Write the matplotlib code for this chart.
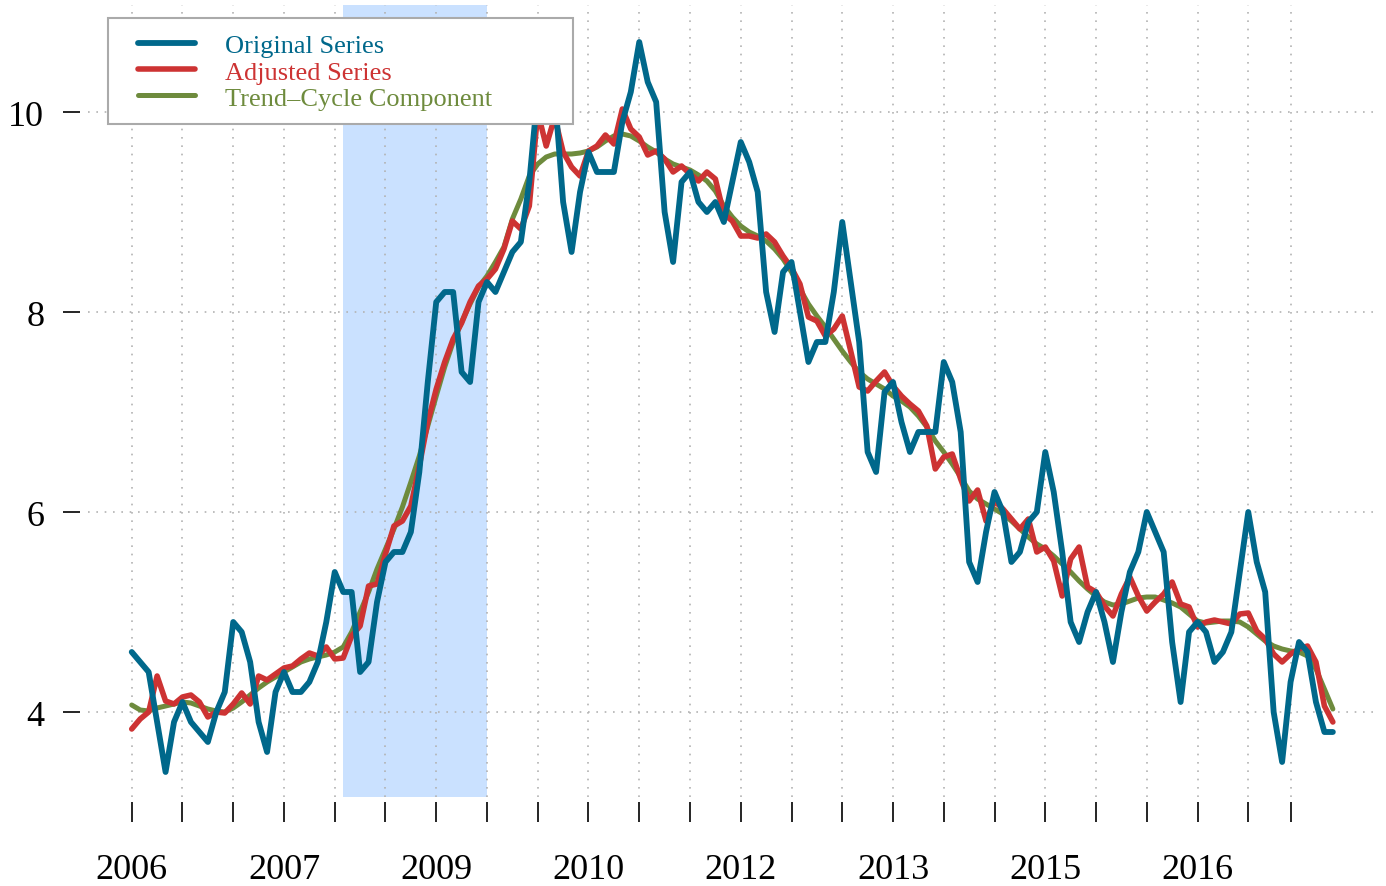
import numpy as np
import matplotlib
matplotlib.use("Agg")
import matplotlib.pyplot as plt
from matplotlib.patches import Rectangle

plt.rcParams['font.family'] = ['Liberation Serif', 'DejaVu Serif']
plt.rcParams['lines.scale_dashes'] = False

# monthly series, first point = January 2006
start_year = 2006

original = [4.6, 4.5, 4.4, 3.9, 3.4, 3.9, 4.1, 3.9, 3.8, 3.7, 4.0, 4.2,
            4.9, 4.8, 4.5, 3.9, 3.6, 4.2, 4.4, 4.2, 4.2, 4.3, 4.5, 4.9,
            5.4, 5.2, 5.2, 4.4, 4.5, 5.1, 5.5, 5.6, 5.6, 5.8, 6.4, 7.3,
            8.1, 8.2, 8.2, 7.4, 7.3, 8.1, 8.3, 8.2, 8.4, 8.6, 8.7, 9.3,
            10.2, 10.0, 10.2, 9.1, 8.6, 9.2, 9.6, 9.4, 9.4, 9.4, 9.9, 10.2,
            10.7, 10.3, 10.1, 9.0, 8.5, 9.3, 9.4, 9.1, 9.0, 9.1, 8.9, 9.3,
            9.7, 9.5, 9.2, 8.2, 7.8, 8.4, 8.5, 8.0, 7.5, 7.7, 7.7, 8.2,
            8.9, 8.3, 7.7, 6.6, 6.4, 7.2, 7.3, 6.9, 6.6, 6.8, 6.8, 6.8,
            7.5, 7.3, 6.8, 5.5, 5.3, 5.8, 6.2, 6.0, 5.5, 5.6, 5.9, 6.0,
            6.6, 6.2, 5.6, 4.9, 4.7, 5.0, 5.2, 4.9, 4.5, 5.0, 5.4, 5.6,
            6.0, 5.8, 5.6, 4.7, 4.1, 4.8, 4.9, 4.8, 4.5, 4.6, 4.8, 5.4,
            6.0, 5.5, 5.2, 4.0, 3.5, 4.3, 4.7, 4.6, 4.1, 3.8, 3.8]

adjusted = [3.83, 3.93, 4.00, 4.36, 4.11, 4.08, 4.15, 4.17, 4.10, 3.95, 4.00, 3.99,
            4.08, 4.19, 4.08, 4.36, 4.32, 4.38, 4.44, 4.46, 4.53, 4.59, 4.56, 4.65,
            4.53, 4.54, 4.76, 4.86, 5.26, 5.28, 5.58, 5.86, 5.91, 6.06, 6.46, 6.90,
            7.23, 7.50, 7.73, 7.89, 8.10, 8.26, 8.33, 8.43, 8.63, 8.91, 8.83, 9.06,
            10.00, 9.66, 9.95, 9.60, 9.45, 9.36, 9.61, 9.66, 9.77, 9.68, 10.03, 9.83,
            9.75, 9.57, 9.61, 9.53, 9.40, 9.46, 9.38, 9.31, 9.40, 9.33, 8.98, 8.91,
            8.76, 8.76, 8.74, 8.78, 8.70, 8.56, 8.44, 8.28, 7.95, 7.91, 7.76, 7.83,
            7.96, 7.61, 7.25, 7.21, 7.31, 7.40, 7.26, 7.16, 7.08, 7.01, 6.86, 6.43,
            6.55, 6.58, 6.33, 6.11, 6.22, 5.91, 6.11, 6.03, 5.93, 5.83, 5.93, 5.60,
            5.65, 5.51, 5.16, 5.53, 5.65, 5.25, 5.20, 5.06, 4.96, 5.18, 5.35, 5.16,
            5.01, 5.10, 5.18, 5.30, 5.08, 5.05, 4.85, 4.90, 4.92, 4.90, 4.88, 4.98,
            4.99, 4.81, 4.73, 4.58, 4.50, 4.58, 4.63, 4.66, 4.50, 4.06, 3.90]

trend = [4.07, 4.02, 4.01, 4.04, 4.06, 4.08, 4.10, 4.09, 4.06, 4.03, 4.01, 4.00,
         4.04, 4.10, 4.17, 4.24, 4.30, 4.35, 4.40, 4.45, 4.50, 4.53, 4.55, 4.57,
         4.60, 4.65, 4.80, 5.00, 5.20, 5.43, 5.63, 5.83, 6.05, 6.30, 6.56, 6.86,
         7.16, 7.45, 7.70, 7.90, 8.08, 8.25, 8.36, 8.50, 8.65, 8.93, 9.13, 9.36,
         9.48, 9.55, 9.58, 9.58, 9.58, 9.59, 9.61, 9.65, 9.71, 9.76, 9.78, 9.76,
         9.71, 9.65, 9.60, 9.53, 9.48, 9.45, 9.42, 9.37, 9.31, 9.21, 9.06, 8.95,
         8.86, 8.80, 8.76, 8.71, 8.63, 8.53, 8.40, 8.23, 8.08, 7.96, 7.85, 7.73,
         7.61, 7.50, 7.40, 7.33, 7.28, 7.23, 7.16, 7.11, 7.05, 6.96, 6.85, 6.71,
         6.60, 6.48, 6.35, 6.21, 6.13, 6.08, 6.03, 5.98, 5.91, 5.83, 5.75, 5.68,
         5.63, 5.56, 5.48, 5.40, 5.31, 5.23, 5.16, 5.10, 5.07, 5.08, 5.11, 5.14,
         5.15, 5.15, 5.12, 5.09, 5.05, 4.98, 4.91, 4.89, 4.90, 4.91, 4.91, 4.90,
         4.85, 4.78, 4.71, 4.66, 4.63, 4.61, 4.60, 4.56, 4.43, 4.23, 4.03]

# shaded period (month index from start)
band_start, band_end = 25, 42

tick_months = [0, 6, 12, 18, 24, 30, 36, 42, 48, 54, 60, 66, 72, 78, 84, 90,
               96, 102, 108, 114, 120, 126, 132, 137]
tick_labels = ['2006', '', '', '2007', '', '', '2009', '', '', '2010', '', '',
               '2012', '', '', '2013', '', '', '2015', '', '', '2016', '', '']

x = start_year + np.arange(len(original)) / 12.0

col_orig = '#00688B'
col_adj = '#CD3333'
col_trend = '#6E8B3D'

fig = plt.figure(figsize=(13.86, 8.87), dpi=100)
ax = fig.add_axes([88 / 1386, 1 - 798 / 887, (1376 - 88) / 1386, (798 - 6) / 887])

ax.axvspan(start_year + band_start / 12, start_year + band_end / 12,
           color='#CAE1FF', lw=0, zorder=0)

ax.plot(x, trend, color=col_trend, lw=3.6, zorder=3,
        solid_joinstyle='round', solid_capstyle='round', label='Trend\u2013Cycle Component')
ax.plot(x, adjusted, color=col_adj, lw=4.0, zorder=4,
        solid_joinstyle='round', solid_capstyle='round', label='Adjusted Series')
ax.plot(x, original, color=col_orig, lw=4.2, zorder=5,
        solid_joinstyle='round', solid_capstyle='round', label='Original Series')

ax.set_xlim(start_year - 5.17 / 12, start_year + 147.1 / 12)
ax.set_ylim(3.15, 11.07)

ax.set_xticks([start_year + m / 12 for m in tick_months])
ax.set_xticklabels(tick_labels)
ax.set_yticks([4, 6, 8, 10])
ax.set_yticklabels(['4', '6', '8', '10'])

ax.grid(True, color='#b3b3b3', lw=1.2, linestyle=(0, (1.2, 4.8)), zorder=1)
ax.set_axisbelow(False)
for gl in ax.get_xgridlines() + ax.get_ygridlines():
    gl.set_zorder(1)

for s in ax.spines.values():
    s.set_visible(False)
ax.spines['bottom'].set_position(('outward', 3.6))
ax.spines['left'].set_position(('outward', 5.8))

ax.tick_params(axis='x', length=14.4, width=1.2, pad=22.5, labelsize=26, colors='black')
ax.tick_params(axis='y', length=12.2, width=1.2, pad=13.5, labelsize=26, colors='black')

# legend box
ax.add_patch(Rectangle((108 / 1386, 1 - 125 / 887), 465 / 1386, 106 / 887,
                       transform=fig.transFigure, facecolor='white',
                       edgecolor='#aaaaaa', lw=1.5, zorder=8, clip_on=False))

handles, labels = ax.get_legend_handles_labels()
order = [2, 1, 0]
leg = ax.legend([handles[k] for k in order], [labels[k] for k in order],
                loc='upper left', bbox_to_anchor=(138 / 1386, 1 - 35 / 887),
                bbox_transform=fig.transFigure, frameon=False, fontsize=19,
                borderpad=0, borderaxespad=0, handlelength=2.16,
                handletextpad=1.14, labelspacing=0.1)
leg.set_zorder(9)
for txt, c in zip(leg.get_texts(), [col_orig, col_adj, col_trend]):
    txt.set_color(c)

fig.savefig('out.png', dpi=100)
